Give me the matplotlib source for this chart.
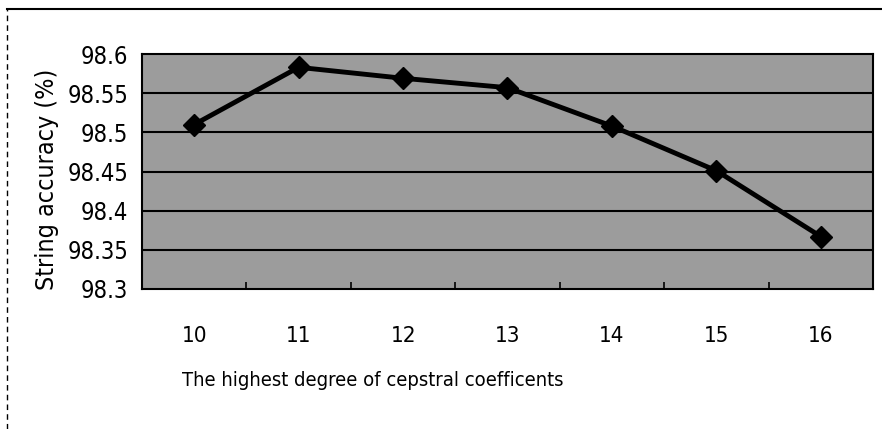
import matplotlib
matplotlib.use('Agg')
import matplotlib.pyplot as plt
from matplotlib.lines import Line2D
from matplotlib.ticker import FixedLocator, NullFormatter

# values
degrees = [10, 11, 12, 13, 14, 15, 16]
accuracy = [98.51, 98.583, 98.569, 98.557, 98.508, 98.451, 98.367]
y_ticks = [98.3, 98.35, 98.4, 98.45, 98.5, 98.55, 98.6]
y_tick_labels = ['98.3', '98.35', '98.4', '98.45', '98.5', '98.55', '98.6']

# the scan squeezes horizontal text, so use a condensed face for it
plt.rcParams['font.family'] = ['DejaVu Sans']
plt.rcParams['font.stretch'] = 'condensed'

fig = plt.figure(figsize=(8.82, 4.29), dpi=100)
W, H = 882, 429
ax = fig.add_axes([142 / W, 1 - 289 / H, (873 - 142) / W, (289 - 54) / H])

ax.set_facecolor('#9c9c9c')
xs = list(range(len(degrees)))
ax.plot(xs, accuracy, color='black', linewidth=3.5, marker='D', markersize=11,
        markerfacecolor='black', markeredgecolor='black', zorder=5)

ax.set_xlim(-0.5, len(degrees) - 0.5)
ax.set_ylim(98.3, 98.6)
ax.set_yticks(y_ticks)
ax.set_yticklabels(y_tick_labels, fontsize=17)
for y in y_ticks[1:-1]:
    ax.axhline(y, color='black', linewidth=1.5, zorder=2)

# category boundaries get inward tick marks, labels sit under the centres
ax.xaxis.set_major_locator(FixedLocator([i + 0.5 for i in xs[:-1]]))
ax.xaxis.set_major_formatter(NullFormatter())
ax.tick_params(axis='x', which='major', direction='in', length=5, width=1.2, color='black')
ax.tick_params(axis='y', length=0, pad=10)
for i, d in zip(xs, degrees):
    ax.text(i, -0.2, str(d), transform=ax.get_xaxis_transform(),
            ha='center', va='center', fontsize=16)

for s in ax.spines.values():
    s.set_linewidth(1.5)
    s.set_color('black')

fig.text(47 / W, 1 - 179 / H, 'String accuracy (%)', rotation=90,
         ha='center', va='center', fontsize=18)
fig.text(373 / W, 1 - 380 / H, 'The highest degree of cepstral coefficents',
         ha='center', va='center', fontsize=14.5)

# outer chart frame from the scan
fig.add_artist(Line2D([7 / W, 1], [1 - 9 / H, 1 - 9 / H], color='black', linewidth=1.5,
                      transform=fig.transFigure))
fig.add_artist(Line2D([7 / W, 7 / W], [0, 1 - 9 / H], color='black', linewidth=1,
                      linestyle=(0, (4, 3)), transform=fig.transFigure))

fig.savefig('out.png', dpi=100)
